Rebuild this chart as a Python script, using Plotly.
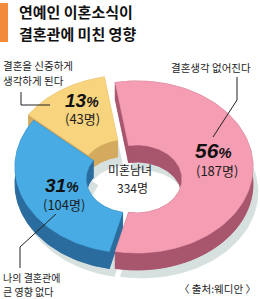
import numpy as np
import plotly.graph_objects as go

# ---------------- data ----------------
categories = ["결혼생각 없어진다", "나의 결혼관에 큰 영향 없다", "결혼을 신중하게 생각하게 된다"]
label_lines = [["결혼생각 없어진다"], ["나의 결혼관에", "큰 영향 없다"], ["결혼을 신중하게", "생각하게 된다"]]
counts = [187, 104, 43]
percents = [56, 31, 13]
center_label = "미혼남녀"
title_lines = ["연예인 이혼소식이", "결혼관에 미친 영향"]
source_text = "〈 출처:웨디안 〉"

# ---------------- style ----------------
TOP_COLORS = ["#F49DB3", "#48ABE4", "#F9D47F"]
SIDE_COLORS = ["#A8566D", "#2A6C9D", "#D4AA5E"]
SHADOW_COLOR = "#D6E0DF"
PULL = [6, 0, 9]
CX, CY, A, B = 131, 167, 116, 86      # outer ellipse of top face
AI, BI, CYI = 45, 34, 179             # inner ellipse of top face
D = 17                                # thickness
SHX, SHY = 5, D + 8                   # ground shadow offset
N = 90

total = sum(counts)
fracs = [c / total for c in counts]
start = np.pi / 2 - np.pi * fracs[0]
bounds = [start]
for f in fracs:
    bounds.append(bounds[-1] + 2 * np.pi * f)

fig = go.Figure()


def add_poly(xs, ys, color):
    fig.add_trace(go.Scatter(x=xs, y=ys, mode="lines", fill="toself",
                             fillcolor=color, line=dict(color=color, width=0.6),
                             hoverinfo="skip", showlegend=False))


def ring_pts(t, dx, dy, inner=False, down=0.0):
    if inner:
        return CX + dx + AI * np.sin(t), CYI + dy + down - BI * np.cos(t)
    return CX + dx + A * np.sin(t), CY + dy + down - B * np.cos(t)


def slice_geom(i):
    t1, t2 = bounds[i], bounds[i + 1]
    m = (t1 + t2) / 2
    dx = PULL[i] * np.sin(m)
    dy = -PULL[i] * np.cos(m) * (B / A)
    ts = np.linspace(t1, t2, N)
    return t1, t2, ts, dx, dy


def face(ts, dx, dy, down=0.0, ox=0.0):
    xo, yo = ring_pts(ts, dx + ox, dy, False, down)
    xi, yi = ring_pts(ts[::-1], dx + ox, dy, True, down)
    xs = np.concatenate([xo, xi, xo[:1]])
    ys = np.concatenate([yo, yi, yo[:1]])
    return xs, ys


# ground shadow
for i in range(len(counts)):
    t1, t2, ts, dx, dy = slice_geom(i)
    xs, ys = face(ts, dx, dy, down=SHY, ox=SHX)
    add_poly(xs, ys, SHADOW_COLOR)

# slices, back to front
for i in [2, 1, 0]:
    t1, t2, ts, dx, dy = slice_geom(i)
    side = SIDE_COLORS[i]
    xs, ys = face(ts, dx, dy, down=D)
    add_poly(xs, ys, side)
    for inner in (False, True):
        xt, yt = ring_pts(ts, dx, dy, inner, 0)
        xb, yb = ring_pts(ts[::-1], dx, dy, inner, D)
        add_poly(np.concatenate([xt, xb, xt[:1]]), np.concatenate([yt, yb, yt[:1]]), side)
    for t in (t1, t2):
        xo, yo = ring_pts(t, dx, dy, False, 0)
        xi, yi = ring_pts(t, dx, dy, True, 0)
        add_poly([xo, xi, xi, xo, xo], [yo, yi, yi + D, yo + D, yo], side)
    xs, ys = face(ts, dx, dy)
    add_poly(xs, ys, TOP_COLORS[i])

KR = "Noto Sans CJK KR"
NUM = "Liberation Sans, Arial, sans-serif"
TXT = "#1c1c1c"
ann = []


def txt(x, y, text, size, color=TXT, family=KR, xanchor="center"):
    ann.append(dict(x=x, y=y, xref="x", yref="y", text=text, showarrow=False,
                    xanchor=xanchor, yanchor="middle",
                    font=dict(family=family, size=size, color=color)))


def block(x, y0, lines, size, xanchor, bold=False, color=TXT):
    step = 1.45 * size + 0.3
    for k, line in enumerate(lines):
        t = f"<b>{line}</b>" if bold else line
        txt(x, y0 + k * step, t, size, color, KR, xanchor)


def pct(v, psize):
    return f"<b><i>{v}<span style='font-size:{psize}px'>%</span></i></b>"


txt(213, 150, pct(percents[0], 15), 21, "#111", NUM)
txt(217, 170, f"({counts[0]}명)", 13)
txt(62, 185, pct(percents[1], 14), 19, "#111", NUM)
txt(64, 204, f"({counts[1]}명)", 13)
txt(82, 100, pct(percents[2], 14), 19, "#111", NUM)
txt(82, 118, f"({counts[2]}명)", 13)

txt(130, 169, center_label, 12)
txt(132, 187, f"{total}명", 12)

block(253, 67, label_lines[0], 10.5, "right")
block(1, 277, label_lines[1], 10, "left")
block(1, 65, label_lines[2], 10.5, "left")

txt(258, 288, source_text, 10.5, TXT, KR, "right")

block(17, 11, title_lines, 15, "left", bold=True, color="#111")

shapes = [
    dict(type="rect", xref="x", yref="y", x0=0, x1=8, y0=3, y1=42,
         fillcolor="#F28C3A", line=dict(width=0)),
    dict(type="path", xref="x", yref="y", path="M 21 92 L 21 105 L 50 105",
         line=dict(color="#222", width=1)),
    dict(type="path", xref="x", yref="y", path="M 237 77 L 237 100 L 213 137",
         line=dict(color="#222", width=1)),
    dict(type="path", xref="x", yref="y", path="M 56 214 L 20 247 L 20 268",
         line=dict(color="#222", width=1)),
]

fig.update_layout(
    width=260, height=299, autosize=False,
    margin=dict(l=0, r=0, t=0, b=0),
    paper_bgcolor="white", plot_bgcolor="white",
    xaxis=dict(range=[0, 260], visible=False, fixedrange=True),
    yaxis=dict(range=[299, 0], visible=False, fixedrange=True),
    annotations=ann, shapes=shapes, showlegend=False,
)

fig.write_html("out.html")
